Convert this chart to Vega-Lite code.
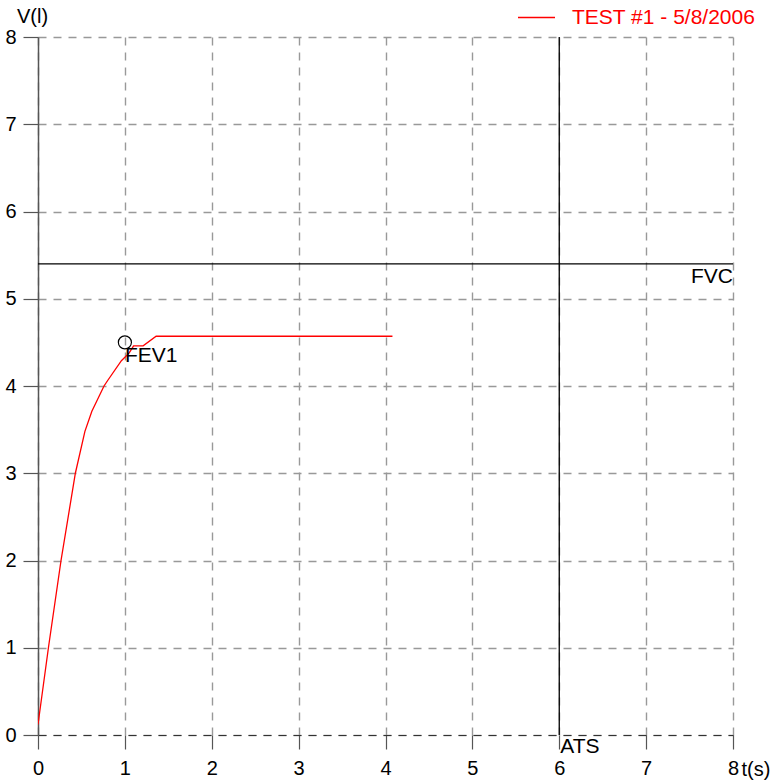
{
  "$schema": "https://vega.github.io/schema/vega-lite/v6.json",
  "autosize": "none",
  "padding": {"left": 38, "top": 37, "right": 51, "bottom": 46},
  "width": 695,
  "height": 698,
  "background": "white",
  "config": {
    "view": {"stroke": null},
    "font": "Liberation Sans",
    "text": {"font": "Liberation Sans"}
  },
  "datasets": {
    "curve": [
      {"t": 0.0, "v": 0.12, "series": "TEST #1 - 5/8/2006"},
      {"t": 0.12, "v": 1.0, "series": "TEST #1 - 5/8/2006"},
      {"t": 0.265, "v": 2.0, "series": "TEST #1 - 5/8/2006"},
      {"t": 0.43, "v": 3.0, "series": "TEST #1 - 5/8/2006"},
      {"t": 0.54, "v": 3.48, "series": "TEST #1 - 5/8/2006"},
      {"t": 0.62, "v": 3.71, "series": "TEST #1 - 5/8/2006"},
      {"t": 0.76, "v": 4.0, "series": "TEST #1 - 5/8/2006"},
      {"t": 0.8, "v": 4.06, "series": "TEST #1 - 5/8/2006"},
      {"t": 0.96, "v": 4.29, "series": "TEST #1 - 5/8/2006"},
      {"t": 1.05, "v": 4.38, "series": "TEST #1 - 5/8/2006"},
      {"t": 1.1, "v": 4.46, "series": "TEST #1 - 5/8/2006"},
      {"t": 1.21, "v": 4.46, "series": "TEST #1 - 5/8/2006"},
      {"t": 1.36, "v": 4.57, "series": "TEST #1 - 5/8/2006"},
      {"t": 4.08, "v": 4.57, "series": "TEST #1 - 5/8/2006"}
    ]
  },
  "layer": [
    {
      "data": {"name": "curve"},
      "mark": {"type": "line", "strokeWidth": 1.3, "clip": true},
      "encoding": {
        "x": {
          "field": "t", "type": "quantitative",
          "scale": {"domain": [0, 8], "nice": false, "zero": false},
          "axis": {
            "title": "t(s)", "titleAngle": 0, "titleAlign": "left", "titleBaseline": "alphabetic",
            "titleX": 703, "titleY": 40, "titleFontSize": 20, "titleFontWeight": "normal", "titleFont": "Liberation Sans", "titleColor": "#000",
            "values": [0,1,2,3,4,5,6,7,8], "format": "d",
            "labelFontSize": 20, "labelFont": "Liberation Sans", "labelColor": "#000", "labelPadding": 9,
            "labelFlush": false, "labelOverlap": false,
            "tickSize": 14, "tickColor": "#555", "tickWidth": 1.2,
            "domain": true, "domainColor": "#333", "domainDash": [8, 7], "domainWidth": 1.2,
            "grid": true, "gridColor": "#999", "gridDash": [8, 7], "gridWidth": 1.4
          }
        },
        "y": {
          "field": "v", "type": "quantitative",
          "scale": {"domain": [0, 8], "nice": false, "zero": false},
          "axis": {
            "title": "V(l)", "titleAngle": 0, "titleAlign": "center", "titleBaseline": "alphabetic",
            "titleX": -6, "titleY": -15, "titleFontSize": 20, "titleFontWeight": "normal", "titleFont": "Liberation Sans", "titleColor": "#000",
            "values": [0,1,2,3,4,5,6,7,8], "format": "d",
            "labelFontSize": 20, "labelFont": "Liberation Sans", "labelColor": "#000", "labelPadding": 7,
            "labelFlush": false, "labelOverlap": false, "labelBaseline": "middle",
            "tickSize": 15, "tickColor": "#555", "tickWidth": 1.2,
            "domain": true, "domainColor": "#555", "domainWidth": 1.5,
            "grid": true, "gridColor": "#999", "gridDash": [8, 7], "gridWidth": 1.4
          }
        },
        "color": {
          "field": "series", "type": "nominal",
          "scale": {"range": ["#ff0000"]},
          "legend": {
            "title": null, "orient": "none", "legendX": 479, "legendY": -39,
            "symbolType": "stroke", "symbolSize": 1369, "symbolStrokeWidth": 1.3,
            "labelColor": "#ff0000", "labelFontSize": 21, "labelFont": "Liberation Sans",
            "labelOffset": 16, "labelLimit": 0, "padding": 0
          }
        }
      }
    },
    {
      "data": {"values": [{"v": 5.4}]},
      "mark": {"type": "rule", "color": "#000", "strokeWidth": 1.3},
      "encoding": {"y": {"field": "v", "type": "quantitative"}}
    },
    {
      "data": {"values": [{"t": 6}]},
      "mark": {"type": "rule", "color": "#000", "strokeWidth": 1.3},
      "encoding": {"x": {"field": "t", "type": "quantitative"}}
    },
    {
      "data": {"values": [{"t": 8, "v": 5.4, "label": "FVC"}]},
      "mark": {"type": "text", "align": "right", "baseline": "alphabetic", "dy": 19, "fontSize": 21, "color": "#000"},
      "encoding": {
        "x": {"field": "t", "type": "quantitative"},
        "y": {"field": "v", "type": "quantitative"},
        "text": {"field": "label"}
      }
    },
    {
      "data": {"values": [{"t": 6, "v": 0, "label": "ATS"}]},
      "mark": {"type": "text", "align": "left", "baseline": "alphabetic", "dx": 1, "dy": 18, "fontSize": 21, "color": "#000"},
      "encoding": {
        "x": {"field": "t", "type": "quantitative"},
        "y": {"field": "v", "type": "quantitative"},
        "text": {"field": "label"}
      }
    },
    {
      "data": {"values": [{"t": 1.0, "v": 4.5, "label": "FEV1"}]},
      "mark": {"type": "point", "shape": "circle", "filled": false, "size": 170, "stroke": "#000", "strokeWidth": 1.2, "opacity": 1},
      "encoding": {
        "x": {"field": "t", "type": "quantitative"},
        "y": {"field": "v", "type": "quantitative"}
      }
    },
    {
      "data": {"values": [{"t": 1.0, "v": 4.5, "label": "FEV1"}]},
      "mark": {"type": "text", "align": "left", "baseline": "alphabetic", "dy": 20, "fontSize": 21, "color": "#000"},
      "encoding": {
        "x": {"field": "t", "type": "quantitative"},
        "y": {"field": "v", "type": "quantitative"},
        "text": {"field": "label"}
      }
    }
  ]
}
